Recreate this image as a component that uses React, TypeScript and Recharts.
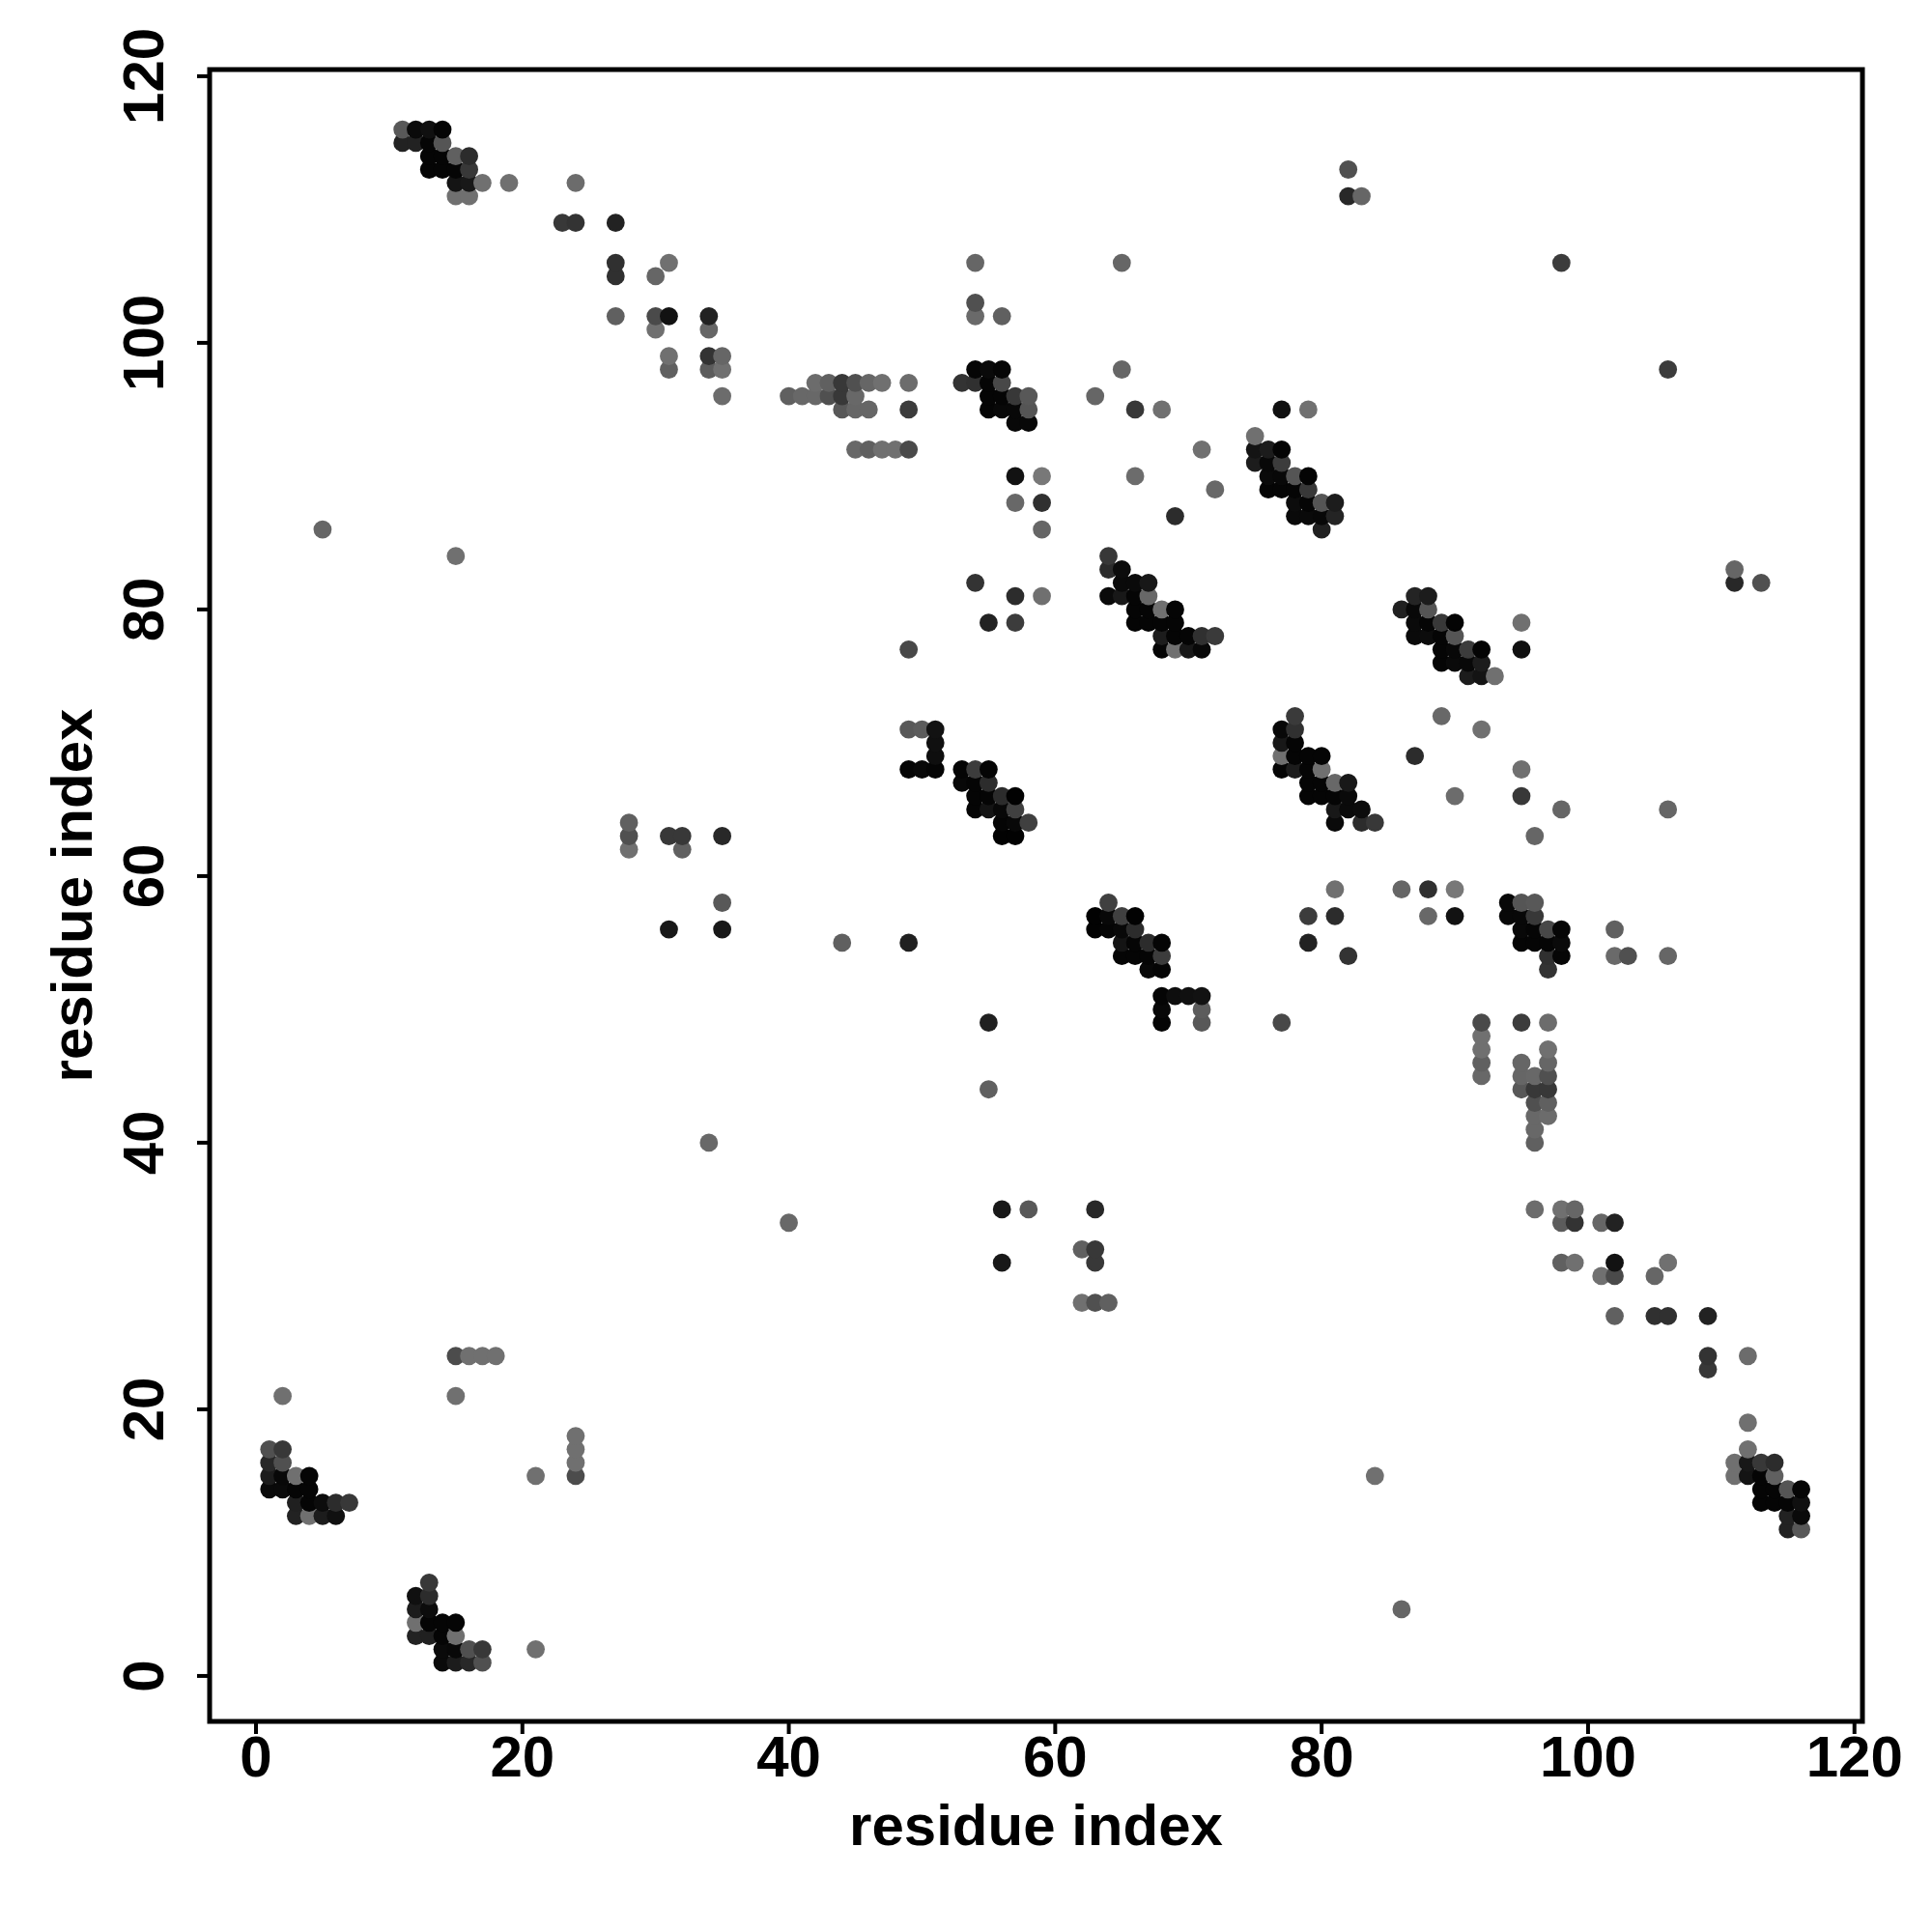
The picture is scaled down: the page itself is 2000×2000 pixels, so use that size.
import { ReferenceArea, Scatter, ScatterChart, XAxis, YAxis } from 'recharts'

const axisTicks = [0, 20, 40, 60, 80, 100, 120]
const axisTitle = 'residue index'

// contact map is symmetric, so only the x < y half is listed, one line per y
const contactX = [
  11, 12, 13, 14,
  11, 12, 13, 14,
  13, 14, 15, 16,
  13, 14, 15, 16, 82,
  15, 16, 17, 19, 24,
  15, 16, 82, 83,
  23, 24, 27,
  27, 31, 54, 65, 98,
  27, 30,
  54,
  27, 30, 31, 34, 54, 56,
  30, 34,
  31, 34, 35,
  31, 34, 35, 54, 55, 56, 65,
  42, 43, 44, 45, 46, 47, 49, 53, 54, 55, 56,
  35, 40, 41, 42, 43, 44, 45, 55, 56, 57, 58, 63,
  44, 45, 46, 49, 55, 56, 57, 58, 66, 68, 77, 79,
  57, 58,
  75,
  45, 46, 47, 48, 49, 71, 75, 76, 77,
  75, 76, 77,
  57, 59, 66, 76, 77, 78, 79,
  72, 76, 77, 78, 79,
  57, 59, 78, 79, 80, 81,
  69, 78, 79, 80, 81,
  5, 59, 80,
  15, 64,
  64, 65,
  54, 65, 66, 67,
  57, 59, 64, 65, 66, 67,
  66, 67, 68, 69,
  55, 57, 66, 67, 68, 69,
  68, 69, 70, 71, 72,
  49, 68, 69, 70, 71,
  49, 50, 51,
  51,
  51,
  49, 50, 51, 53, 54, 55,
  53, 54, 55,
  54, 55, 56, 57,
  54, 55, 56, 57,
  28, 56, 57, 58,
  28, 31, 32, 35, 56, 57,
  28, 32,
  35,
  31, 35,
  44, 49,
  34,
  15, 16, 17, 18,
  2, 15,
  1, 2,
  1, 2,
  1, 2, 3, 4,
  1, 2, 3, 4,
  3, 4, 5, 6, 7,
  3, 4, 5, 6,
]

const contactY = [
  116, 116, 116, 116,
  115, 115, 115, 115,
  114, 114, 114, 114,
  113, 113, 113, 113, 113,
  112, 112, 112, 112, 112,
  111, 111, 111, 111,
  109, 109, 109,
  106, 106, 106, 106, 106,
  105, 105,
  103,
  102, 102, 102, 102, 102, 102,
  101, 101,
  99, 99, 99,
  98, 98, 98, 98, 98, 98, 98,
  97, 97, 97, 97, 97, 97, 97, 97, 97, 97, 97,
  96, 96, 96, 96, 96, 96, 96, 96, 96, 96, 96, 96,
  95, 95, 95, 95, 95, 95, 95, 95, 95, 95, 95, 95,
  94, 94,
  93,
  92, 92, 92, 92, 92, 92, 92, 92, 92,
  91, 91, 91,
  90, 90, 90, 90, 90, 90, 90,
  89, 89, 89, 89, 89,
  88, 88, 88, 88, 88, 88,
  87, 87, 87, 87, 87,
  86, 86, 86,
  84, 84,
  83, 83,
  82, 82, 82, 82,
  81, 81, 81, 81, 81, 81,
  80, 80, 80, 80,
  79, 79, 79, 79, 79, 79,
  78, 78, 78, 78, 78,
  77, 77, 77, 77, 77,
  71, 71, 71,
  70,
  69,
  68, 68, 68, 68, 68, 68,
  67, 67, 67,
  66, 66, 66, 66,
  65, 65, 65, 65,
  64, 64, 64, 64,
  63, 63, 63, 63, 63, 63,
  62, 62,
  58,
  56, 56,
  55, 55,
  40,
  24, 24, 24, 24,
  21, 21,
  17, 17,
  16, 16,
  15, 15, 15, 15,
  14, 14, 14, 14,
  13, 13, 13, 13, 13,
  12, 12, 12, 12,
]

// grey level of each point, 0 = black
const contactGrey = [
  0x58, 0x0a, 0x10, 0x05,
  0x22, 0x22, 0x05, 0x55,
  0x05, 0x05, 0x60, 0x2c,
  0x05, 0x05, 0x05, 0x38, 0x50,
  0x14, 0x18, 0x70, 0x70, 0x6c,
  0x70, 0x70, 0x28, 0x66,
  0x38, 0x33, 0x22,
  0x30, 0x70, 0x66, 0x66, 0x3c,
  0x30, 0x66,
  0x50,
  0x60, 0x4a, 0x12, 0x22, 0x6a, 0x60,
  0x70, 0x66,
  0x70, 0x33, 0x66,
  0x60, 0x5c, 0x70, 0x06, 0x0a, 0x06, 0x66,
  0x6c, 0x60, 0x38, 0x50, 0x66, 0x70, 0x6c, 0x33, 0x30, 0x05, 0x48,
  0x6c, 0x60, 0x68, 0x68, 0x50, 0x38, 0x68, 0x05, 0x05, 0x38, 0x58, 0x66,
  0x58, 0x66, 0x66, 0x3c, 0x05, 0x08, 0x08, 0x55, 0x38, 0x70, 0x10, 0x70,
  0x08, 0x08,
  0x70,
  0x68, 0x60, 0x70, 0x70, 0x4a, 0x70, 0x14, 0x1c, 0x04,
  0x1c, 0x08, 0x3c,
  0x12, 0x78, 0x6c, 0x0a, 0x08, 0x55, 0x04,
  0x68, 0x05, 0x05, 0x05, 0x38,
  0x68, 0x30, 0x0c, 0x05, 0x55, 0x1c,
  0x2c, 0x0a, 0x0a, 0x08, 0x24,
  0x66, 0x66, 0x20,
  0x70, 0x38,
  0x2c, 0x0c,
  0x33, 0x0a, 0x0a, 0x18,
  0x2c, 0x70, 0x0a, 0x18, 0x05, 0x68,
  0x05, 0x05, 0x70, 0x05,
  0x22, 0x3c, 0x05, 0x05, 0x05, 0x05,
  0x1c, 0x05, 0x05, 0x30, 0x3a,
  0x48, 0x05, 0x70, 0x18, 0x08,
  0x58, 0x5c, 0x12,
  0x10,
  0x0e,
  0x05, 0x08, 0x05, 0x05, 0x3c, 0x05,
  0x08, 0x05, 0x2c,
  0x05, 0x05, 0x2c, 0x02,
  0x05, 0x14, 0x08, 0x40,
  0x60, 0x05, 0x08, 0x40,
  0x50, 0x38, 0x38, 0x28, 0x02, 0x02,
  0x70, 0x60,
  0x58,
  0x18, 0x18,
  0x60, 0x20,
  0x68,
  0x4c, 0x70, 0x70, 0x70,
  0x70, 0x70,
  0x50, 0x38,
  0x28, 0x50,
  0x1c, 0x08, 0x70, 0x05,
  0x0a, 0x0a, 0x05, 0x05,
  0x20, 0x05, 0x0c, 0x2c, 0x38,
  0x22, 0x70, 0x1c, 0x10,
]

const points = contactX
  .flatMap((x, i) => {
    const y = contactY[i]
    const grey = contactGrey[i]
    return [
      { x, y, grey },
      { x: y, y: x, grey },
    ]
  })
  .sort((a, b) => a.x - b.x || a.y - b.y)

const fontFamily = '"Liberation Sans", Arial, sans-serif'

const Dot = (props: any) => {
  const g = props.payload.grey
  return <circle cx={props.cx} cy={props.cy} r={9.4} fill={`rgb(${g},${g},${g})`} />
}

const YTick = ({ x, y, payload }: any) => (
  <text
    x={x - 33}
    y={y}
    transform={`rotate(-90 ${x - 33} ${y})`}
    textAnchor="middle"
    fontFamily={fontFamily}
    fontWeight="bold"
    fontSize={60}
    fill="#000"
  >
    {payload.value}
  </text>
)

export default function App() {
  return (
    <div style={{ position: 'absolute', left: 0, top: 0, width: 2000, height: 2000, background: '#fff' }}>
      <ScatterChart
        width={2000}
        height={2000}
        margin={{ top: 72, right: 72, bottom: 0, left: 0 }}
      >
        <XAxis
          type="number"
          dataKey="x"
          domain={[-3.48, 120.6]}
          ticks={axisTicks}
          interval={0}
          axisLine={false}
          tickLine={{ stroke: '#000', strokeWidth: 4 }}
          tickSize={13}
          tickMargin={1}
          height={218}
          tick={{ fill: '#000', fontSize: 60, fontWeight: 'bold', fontFamily }}
          label={{
            value: axisTitle,
            position: 'insideTop',
            offset: 85,
            fill: '#000',
            fontSize: 60,
            fontWeight: 'bold',
            fontFamily,
          }}
        />
        <YAxis
          type="number"
          dataKey="y"
          domain={[-3.41, 120.5]}
          ticks={axisTicks}
          interval={0}
          axisLine={false}
          tickLine={{ stroke: '#000', strokeWidth: 4 }}
          tickSize={13}
          width={217}
          tick={<YTick />}
          label={{
            value: axisTitle,
            angle: -90,
            position: 'insideLeft',
            offset: 74,
            textAnchor: 'middle',
            fill: '#000',
            fontSize: 60,
            fontWeight: 'bold',
            fontFamily,
          }}
        />
        <Scatter data={points} shape={<Dot />} isAnimationActive={false} />
        <ReferenceArea
          x1={-3.48}
          x2={120.6}
          y1={-3.41}
          y2={120.5}
          fill="none"
          stroke="#000"
          strokeWidth={5}
          ifOverflow="visible"
        />
      </ScatterChart>
    </div>
  )
}
